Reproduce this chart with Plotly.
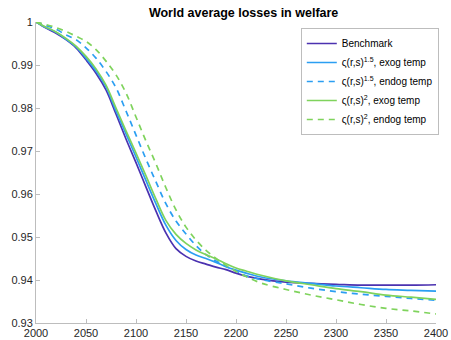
import plotly.graph_objects as go

# Years on the horizontal axis
years = [2000, 2010, 2020, 2030, 2040, 2050, 2060, 2070, 2080, 2090,
         2100, 2110, 2120, 2130, 2140, 2150, 2160, 2170, 2180, 2190,
         2200, 2210, 2225, 2250, 2275, 2300, 2325, 2350, 2375, 2400]

# World average welfare relative to no-damage path
benchmark = [1.0000, 0.9986, 0.9974, 0.9959, 0.9940, 0.9912, 0.9881, 0.9842, 0.9786, 0.9728,
             0.9673, 0.9616, 0.9560, 0.9509, 0.9473, 0.9455, 0.9444, 0.9437, 0.9430, 0.9424,
             0.9416, 0.9409, 0.9402, 0.9395, 0.9392, 0.9390, 0.9388, 0.9388, 0.9388, 0.9389]

exog_15 = [1.0000, 0.9987, 0.9976, 0.9960, 0.9942, 0.9916, 0.9886, 0.9849, 0.9793, 0.9740,
           0.9686, 0.9631, 0.9577, 0.9527, 0.9492, 0.9471, 0.9458, 0.9450, 0.9441, 0.9431,
           0.9423, 0.9416, 0.9407, 0.9398, 0.9392, 0.9386, 0.9382, 0.9378, 0.9376, 0.9374]

endog_15 = [1.0000, 0.9992, 0.9983, 0.9970, 0.9959, 0.9940, 0.9916, 0.9885, 0.9847, 0.9793,
            0.9737, 0.9681, 0.9628, 0.9577, 0.9537, 0.9507, 0.9480, 0.9459, 0.9444, 0.9432,
            0.9421, 0.9410, 0.9401, 0.9391, 0.9381, 0.9373, 0.9367, 0.9362, 0.9357, 0.9353]

exog_2 = [1.0000, 0.9988, 0.9977, 0.9962, 0.9944, 0.9920, 0.9891, 0.9853, 0.9800, 0.9747,
          0.9695, 0.9642, 0.9588, 0.9538, 0.9506, 0.9485, 0.9470, 0.9459, 0.9449, 0.9438,
          0.9428, 0.9421, 0.9411, 0.9398, 0.9389, 0.9380, 0.9373, 0.9365, 0.9360, 0.9355]

endog_2 = [1.0000, 0.9994, 0.9987, 0.9978, 0.9967, 0.9955, 0.9936, 0.9909, 0.9877, 0.9835,
           0.9779, 0.9723, 0.9670, 0.9614, 0.9563, 0.9523, 0.9493, 0.9469, 0.9450, 0.9434,
           0.9420, 0.9408, 0.9393, 0.9378, 0.9365, 0.9354, 0.9343, 0.9334, 0.9328, 0.9321]

series_names = ["Benchmark",
                "ς(r,s)<sup>1.5</sup>, exog temp",
                "ς(r,s)<sup>1.5</sup>, endog temp",
                "ς(r,s)<sup>2</sup>, exog temp",
                "ς(r,s)<sup>2</sup>, endog temp"]

x_ticks = [2000, 2050, 2100, 2150, 2200, 2250, 2300, 2350, 2400]
y_ticks = [0.93, 0.94, 0.95, 0.96, 0.97, 0.98, 0.99, 1.0]
y_tick_text = ["0.93", "0.94", "0.95", "0.96", "0.97", "0.98", "0.99", "1"]

purple = "#4B32B0"
blue = "#2B9EF2"
green = "#7FD35C"

styles = [
    dict(color=purple, dash="solid"),
    dict(color=blue, dash="solid"),
    dict(color=blue, dash="6px,5px"),
    dict(color=green, dash="solid"),
    dict(color=green, dash="6px,5px"),
]

font_family = "Liberation Sans, Arial, sans-serif"

fig = go.Figure()
for name, ys, st in zip(series_names,
                        [benchmark, exog_15, endog_15, exog_2, endog_2],
                        styles):
    fig.add_trace(go.Scatter(
        x=years, y=ys, mode="lines", name=name,
        line=dict(color=st["color"], dash=st["dash"], width=1.7,
                  shape="spline", smoothing=1.0),
    ))

axis_common = dict(
    showgrid=False, zeroline=False, showline=True, automargin=False,
    linecolor="#bdbdbd", linewidth=1,
    ticks="inside", ticklen=4, tickcolor="#bdbdbd",
    tickfont=dict(family=font_family, size=11, color="#262626"),
    mirror=False,
)

fig.update_layout(
    width=451, height=340,
    margin=dict(l=36, r=15, t=22, b=17, autoexpand=False),
    paper_bgcolor="white", plot_bgcolor="white",
    title=dict(text="<b>World average losses in welfare</b>",
               x=0.519, xanchor="center", xref="paper",
               y=0.963, yref="container", yanchor="middle", automargin=False,
               font=dict(family=font_family, size=12.5, color="black")),
    xaxis=dict(range=[2000, 2400], tickvals=x_ticks, ticktext=[str(v) for v in x_ticks],
               **axis_common),
    yaxis=dict(range=[0.93, 1.0], tickvals=y_ticks, ticktext=y_tick_text,
               **axis_common),
    legend=dict(x=0.662, y=0.98, xanchor="left", yanchor="top",
                bgcolor="white", bordercolor="#bdbdbd", borderwidth=1,
                font=dict(family=font_family, size=10, color="black"),
                tracegroupgap=0, itemwidth=30),
    showlegend=True,
)

fig.write_html("out.html")
